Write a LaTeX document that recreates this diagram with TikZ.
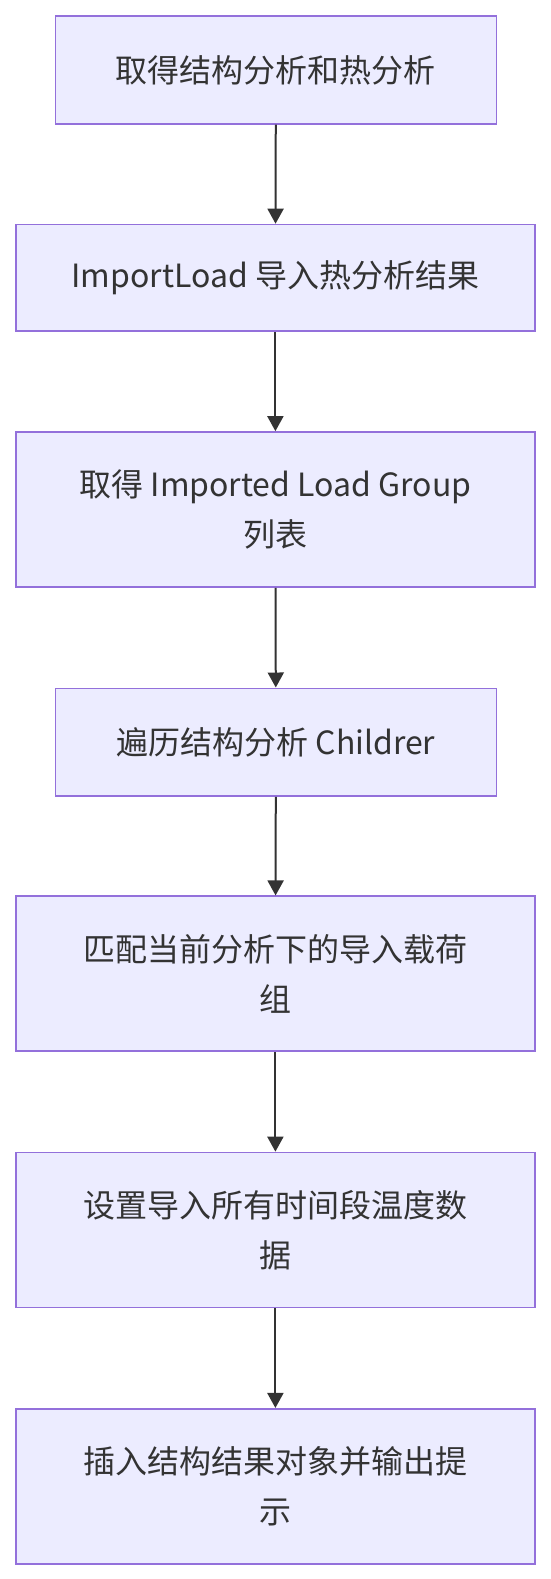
\documentclass[tikz,border=0pt]{standalone}
\usepackage{fontspec}
\setmainfont{Noto Sans CJK SC}
\usetikzlibrary{arrows.meta}
\definecolor{boxfill}{HTML}{ECECFF}
\definecolor{boxline}{HTML}{9370DB}
\definecolor{ink}{HTML}{333333}
\begin{document}
\begin{tikzpicture}[x=1pt, y=-1pt,
        stepbox/.style={rectangle, draw=boxline, fill=boxfill, line width=1.7pt, text=ink, align=center,
            font=\fontsize{32}{50}\selectfont, inner sep=0pt},
        narrow/.style={minimum width=441pt, minimum height=107.7pt},
        wide/.style={minimum width=518.6pt, minimum height=106.7pt},
        tall/.style={minimum width=518.6pt, minimum height=155pt},
        flow/.style={draw=ink, line width=2pt, -{Triangle[length=15pt, width=16pt]}}]
        \useasboundingbox (0,0) rectangle (551,1579);

        \node[stepbox, narrow] at (275.9,70) (GET) {取得结构分析和热分析};
        \node[stepbox, wide] at (275.4,277.9) (IMP) {ImportLoad 导入热分析结果};
        \node[stepbox, tall] at (275.4,509.5) (LST) {取得 Imported Load Group\\列表};
        \node[stepbox, narrow] at (275.9,742.2) (CHI) {遍历结构分析 Childrer};
        \node[stepbox, tall] at (275.4,973.8) (GRP) {匹配当前分析下的导入载荷\\组};
        \node[stepbox, tall] at (275.4,1230) (TMP) {设置导入所有时间段温度数\\据};
        \node[stepbox, tall] at (275.4,1486.3) (OUT) {插入结构结果对象并输出提\\示};

        \draw [flow] (GET) to (IMP);
        \draw [flow] (IMP) to (LST);
        \draw [flow] (LST) to (CHI);
        \draw [flow] (CHI) to (GRP);
        \draw [flow] (GRP) to (TMP);
        \draw [flow] (TMP) to (OUT);

    \end{tikzpicture}
\end{document}
